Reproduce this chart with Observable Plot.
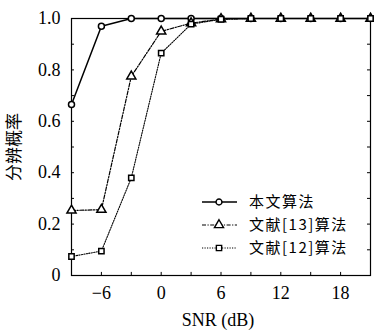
<!DOCTYPE html>
<html><head><meta charset="utf-8">
<script src="https://cdn.jsdelivr.net/npm/d3@7"></script>
<script src="https://cdn.jsdelivr.net/npm/@observablehq/plot@0.6"></script>
<style>body{margin:0;background:#fff}</style>
</head><body><div id="chart"></div>
<script>
const snr = [-9, -6, -3, 0, 3, 6, 9, 12, 15, 18, 21];
const ours = [0.665, 0.97, 1.0, 1.0, 1.0, 1.0, 1.0, 1.0, 1.0, 1.0, 1.0];
const ref13 = [0.253, 0.256, 0.775, 0.95, 0.982, 0.998, 1.0, 1.0, 1.0, 1.0, 1.0];
const ref12 = [0.074, 0.095, 0.38, 0.865, 0.978, 0.997, 1.0, 1.0, 1.0, 1.0, 1.0];
const seriesNames = ["本文算法", "文献[13]算法", "文献[12]算法"];
const xTickLabels = [-6, 0, 6, 12, 18];
const xMinorTicks = [-6, -3, 0, 3, 6, 9, 12, 15, 18];
const yTickLabels = [0, 0.2, 0.4, 0.6, 0.8, 1.0];
const yMinorTicks = [0.1, 0.2, 0.3, 0.4, 0.5, 0.6, 0.7, 0.8, 0.9];

const styles = [
  {dash: "none", symbol: "circle", width: 1.5},
  {dash: "4,1.5,1.2,1.5", symbol: "triangle", width: 1.2},
  {dash: "1.2,1.3", symbol: "square", width: 1.1}
];
const all = [ours, ref13, ref12];
const data = [];
all.forEach((vals, k) => vals.forEach((v, i) => data.push({x: snr[i], y: v, s: k})));

const serif = "Liberation Serif, DejaVu Serif, serif";
const cjk = "Noto Sans CJK SC, sans-serif";

const marks = [Plot.frame({stroke: "black", strokeWidth: 1.2})];
marks.push(Plot.ruleX(xMinorTicks, {x: d => d, y1: 0, y2: 0.012, stroke: "black", strokeWidth: 1}));
marks.push(Plot.ruleY(yMinorTicks, {y: d => d, x1: -9, x2: -8.7, stroke: "black", strokeWidth: 1}));
marks.push(Plot.ruleY(yMinorTicks, {y: d => d, x1: 21, x2: 20.7, stroke: "black", strokeWidth: 1}));
all.forEach((vals, k) => {
  const d = data.filter(e => e.s === k);
  marks.push(Plot.line(d, {x: "x", y: "y", stroke: "black", strokeWidth: styles[k].width, strokeDasharray: styles[k].dash}));
});
all.forEach((vals, k) => {
  const d = data.filter(e => e.s === k);
  marks.push(Plot.dot(d, {x: "x", y: "y", symbol: () => styles[k].symbol, r: k === 1 ? 3.4 : 3.0, fill: "white", stroke: "black", strokeWidth: 1.5}));
});
marks.push(Plot.axisX(xTickLabels, {tickSize: 0, tickPadding: 11, fontSize: 18, fontFamily: serif, fill: "black",
  tickFormat: d => d < 0 ? "\u2212" + Math.abs(d) : String(d), label: null}));
marks.push(Plot.axisY(yTickLabels, {tickSize: 0, tickPadding: 11, fontSize: 18, fontFamily: serif, fill: "black",
  tickFormat: d => d === 0 ? "0" : d.toFixed(1), label: null}));

const plot = Plot.plot({
  width: 374, height: 331,
  marginLeft: 71, marginRight: 4, marginTop: 18, marginBottom: 56,
  x: {domain: [-9, 21]},
  y: {domain: [0, 1]},
  symbol: {type: "identity"},
  style: {background: "white", overflow: "visible"},
  marks
});
document.getElementById("chart").appendChild(plot);

const svg = d3.select(plot);
svg.append("text").attr("x", 218).attr("y", 326).attr("text-anchor", "middle")
  .style("font-family", serif).style("font-size", "18px").text("SNR (dB)");
svg.append("text").attr("transform", "translate(20,147) rotate(-90)").attr("text-anchor", "middle")
  .style("font-family", cjk).style("font-size", "17px").text("分辨概率");
const lg = svg.append("g");
const sym = {circle: d3.symbolCircle, triangle: d3.symbolTriangle, square: d3.symbolSquare};
seriesNames.forEach((name, k) => {
  const yy = 202 + k * 23;
  lg.append("line").attr("x1", 202).attr("x2", 237).attr("y1", yy).attr("y2", yy)
    .attr("stroke", "black").attr("stroke-width", styles[k].width)
    .attr("stroke-dasharray", styles[k].dash);
  const area = k === 1 ? 36 : 28;
  lg.append("path").attr("d", d3.symbol(sym[styles[k].symbol], area)())
    .attr("transform", `translate(219,${yy})`).attr("fill", "white").attr("stroke", "black").attr("stroke-width", 1.4);
  lg.append("text").attr("x", 249).attr("y", yy).attr("dy", "0.35em").attr("text-anchor", "start")
    .style("font-family", cjk).style("font-size", "15px").style("letter-spacing", "1.5px").text(name);
});
</script></body></html>
